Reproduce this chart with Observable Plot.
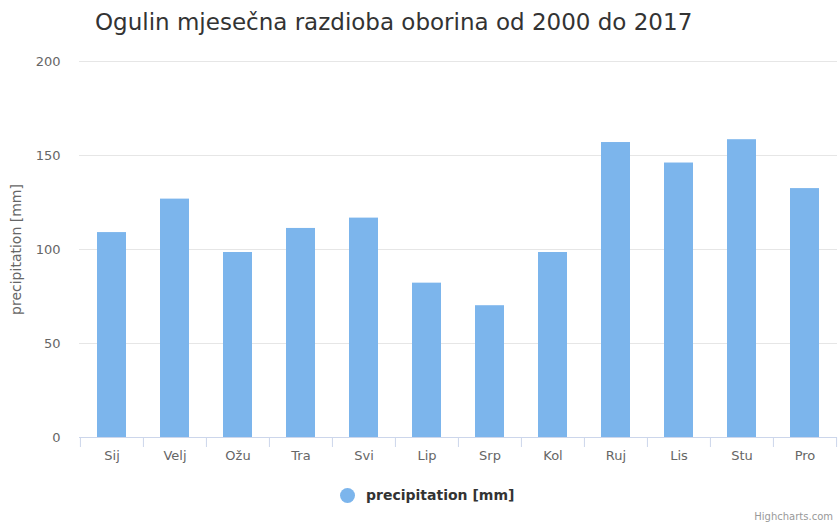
<!DOCTYPE html>
<html>
<head>
<meta charset="utf-8">
<script src="https://cdn.jsdelivr.net/npm/d3@7"></script>
<script src="https://cdn.jsdelivr.net/npm/@observablehq/plot@0.6"></script>
<style>
  html, body { margin: 0; padding: 0; background: #fff; }
  #wrap { position: relative; width: 839px; height: 527px; overflow: hidden; font-family: "DejaVu Sans", sans-serif; }
  #title { position: absolute; left: 95px; top: 9px; font-size: 23px; color: #333; white-space: nowrap; }
  #chart { position: absolute; left: 0; top: 46px; }
  #legend { position: absolute; left: 340px; top: 487px; font-size: 14px; font-weight: bold; color: #333; display: flex; align-items: center; white-space: nowrap; }
  #legend .dot { width: 15px; height: 15px; border-radius: 50%; background: #7cb5ec; margin-right: 11px; }
  #credits { position: absolute; right: 6px; top: 511px; font-size: 10px; color: #999; }
</style>
</head>
<body>
<div id="wrap">
  <div id="title">Ogulin mjesečna razdioba oborina od 2000 do 2017</div>
  <div id="chart"></div>
  <div id="legend"><span class="dot"></span><span>precipitation [mm]</span></div>
  <div id="credits">Highcharts.com</div>
</div>
<script>
const months = ["Sij", "Velj", "Ožu", "Tra", "Svi", "Lip", "Srp", "Kol", "Ruj", "Lis", "Stu", "Pro"];
const precipitation = [109, 126.8, 98.4, 111.2, 116.7, 82.1, 70.1, 98.4, 156.9, 146.0, 158.4, 132.4];
const yTicks = [0, 50, 100, 150, 200];
const seriesName = "precipitation [mm]";

const data = months.map((m, i) => ({month: m, value: precipitation[i]}));

const W = 839, H = 434;
const mL = 79, mR = 2;
const step = (W - mL - mR) / months.length;

const chart = Plot.plot({
  width: W,
  height: H,
  marginLeft: mL,
  marginRight: mR,
  marginTop: 15,
  marginBottom: 43,
  style: {fontFamily: "DejaVu Sans, sans-serif", fontSize: "13px", color: "#666", background: "#fff"},
  x: {domain: months, paddingInner: 0.54, paddingOuter: 0.27},
  y: {domain: [0, 200]},
  marks: [
    Plot.gridY(yTicks, {stroke: "#e6e6e6", strokeOpacity: 1}),
    Plot.barY(data, {x: "month", y: "value", fill: "#7cb5ec"}),
    Plot.ruleY([0], {stroke: "#ccd6eb"}),
    Plot.axisX(months, {tickSize: 10, dx: -step / 2, stroke: "#ccd6eb", tickFormat: () => "", strokeOpacity: 1, label: null}),
    Plot.axisX([months[months.length - 1]], {tickSize: 10, dx: step / 2, stroke: "#ccd6eb", tickFormat: () => "", strokeOpacity: 1, label: null}),
    Plot.axisX(months, {tickSize: 0, tickPadding: 13, fill: "#666", fontSize: 13, label: null}),
    Plot.axisY(yTicks, {tickSize: 0, tickPadding: 19, fill: "#666", fontSize: 13, label: null}),
    Plot.axisY(yTicks, {tickSize: 0, tickFormat: () => "", fill: "#666", fontSize: 14, label: seriesName, labelAnchor: "center", labelArrow: "none", labelOffset: 68})
  ]
});
document.getElementById("chart").appendChild(chart);
</script>
</body>
</html>
